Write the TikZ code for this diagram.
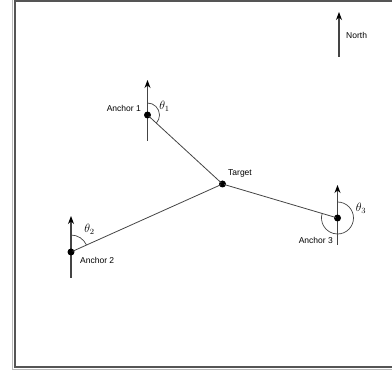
\documentclass[tikz,border=0pt]{standalone}
\usepackage{fontspec}
\setsansfont{Liberation Sans}
\usetikzlibrary{arrows.meta}
\definecolor{framedark}{HTML}{555555}
\definecolor{framelight}{HTML}{BBBBBB}
\definecolor{linegray}{HTML}{444444}
\tikzset{
  dot/.style={circle,fill=black,inner sep=0pt,minimum size=7pt},
  conn/.style={draw=linegray,line width=0.8pt,shorten <=-2pt,shorten >=-2pt},
  northarrow/.style={draw=linegray,line width=1.1pt,-{Stealth[length=8pt,width=6pt,color=black]}},
  anglearc/.style={draw=linegray,line width=0.7pt},
  lbl/.style={font=\sffamily\fontsize{8.5}{10}\selectfont,inner sep=0pt},
  theta/.style={font=\fontsize{12}{14}\selectfont,inner sep=0pt}
}
\begin{document}
\begin{tikzpicture}[x=1pt,y=1pt]
\useasboundingbox (0,0) rectangle (392,373);
% frame
\coordinate (FLtop) at (12.7,373);
\coordinate (FLbot) at (12.7,3.5);
\coordinate (FRbot) at (392,3.5);
\draw[framelight,line width=1pt] (FLtop) -- (FLbot) -- (FRbot);
\coordinate (Ftl) at (15,372.2);
\coordinate (Fbl) at (15,5.5);
\coordinate (Fbr) at (393,5.5);
\coordinate (Ftr) at (393,372.2);
\draw[framedark,line width=2pt] (Ftr) -- (Ftl) -- (Fbl) -- (Fbr);
% north arrows
\coordinate (Ns) at (339,316);
\coordinate (Nn) at (339,361);
\draw[northarrow] (Ns) -- (Nn);
\node[lbl,anchor=west] (north) at (346,338) {North};
\coordinate (A1s) at (147.5,232);
\coordinate (A1n) at (147.5,293);
\draw[northarrow] (A1s) -- (A1n);
\coordinate (A2s) at (71,95);
\coordinate (A2n) at (71,157);
\draw[northarrow] (A2s) -- (A2n);
\coordinate (A3s) at (337.5,128);
\coordinate (A3n) at (337.5,188);
\draw[northarrow] (A3s) -- (A3n);
% dots
\node[dot] (A1) at (147.5,258) {};
\node[dot] (A2) at (71,121) {};
\node[dot] (A3) at (337.5,155) {};
\node[dot] (T) at (222.5,189) {};
% connectors
\draw[conn] (A1) -- (T);
\draw[conn] (A2) -- (T);
\draw[conn] (T) -- (A3);
% angle arcs
\draw[anglearc] ([shift={(90:12pt)}]A1.center) arc[start angle=90,end angle=-42.6,radius=12pt];
\draw[anglearc] ([shift={(90:17pt)}]A2.center) arc[start angle=90,end angle=24.2,radius=17pt];
\draw[anglearc] ([shift={(90:16pt)}]A3.center) arc[start angle=90,end angle=-196.5,radius=16pt];
% labels
\node[lbl,anchor=east] (la1) at (141,265) {Anchor 1};
\node[lbl,anchor=west] (la2) at (80,113) {Anchor 2};
\node[lbl,anchor=east] (la3) at (333,133) {Anchor 3};
\node[lbl,anchor=west] (lt) at (228,199.5) {Target};
\node[theta] (t1) at (164.5,266.5) {$\theta_1$};
\node[theta] (t2) at (89.5,143.5) {$\theta_2$};
\node[theta] (t3) at (361,164.5) {$\theta_3$};
\end{tikzpicture}
\end{document}
